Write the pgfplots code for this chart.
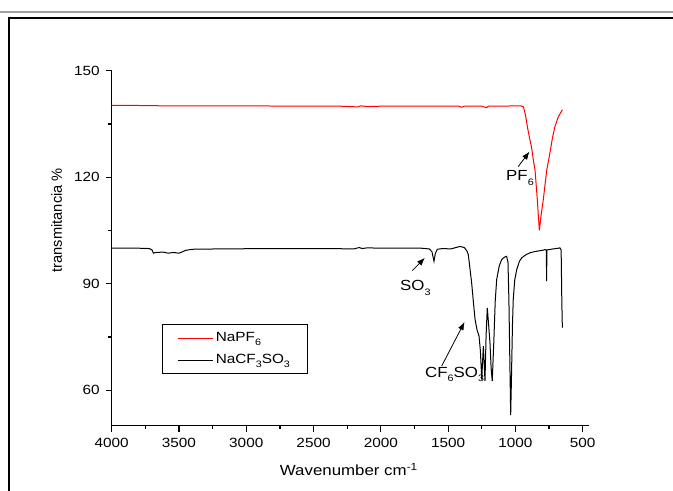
\documentclass[border=0pt]{standalone}
\usepackage{fontspec}
\setmainfont{Liberation Sans}[FakeStretch=1.15]
\newfontfamily\ylabfont{Liberation Sans}
\usepackage{pgfplots}
\pgfplotsset{compat=1.18}
\usetikzlibrary{arrows.meta}
\newcommand{\sub}[1]{\raisebox{-0.6ex}{\fontsize{7}{7}\selectfont #1}}

\pgfplotstableread{
w v
4000 140.2
3800 140.2
3600 140.1
3400 140.1
3000 140.1
2600 140.0
2300 140.0
2170 139.8
2150 140.1
2100 139.9
2000 140.0
1800 140.0
1600 140.0
1420 140.0
1400 139.7
1380 140.0
1250 140.0
1215 139.6
1200 140.0
1100 140.0
1000 140.1
960 140.1
940 139.8
925 137.5
910 134
892 130.5
880 128.5
867 124.9
854 122
837 113.6
822 105
810 109
793 113.6
767 122
743 126.9
725 131
706 134.3
681 137
651 139
}\redtab

\pgfplotstableread{
w v
4000 100.0
3800 100.0
3720 99.9
3700 99.5
3690 98.6
3670 98.8
3620 98.9
3580 98.6
3540 98.8
3500 98.6
3480 98.9
3450 99.4
3400 99.7
3200 99.8
2800 99.9
2400 99.9
2200 99.8
2160 100.2
2140 99.9
2100 100.1
2000 100.0
1800 100.0
1700 100.0
1640 99.8
1620 99.0
1605 96.3
1595 98.5
1580 99.7
1540 99.9
1480 99.8
1440 100.2
1412 100.5
1380 100.2
1360 99.2
1350 98.2
1340 95
1325 90.2
1310 84
1300 80
1285 77
1270 75.2
1260 71
1250 63
1244 68
1238 72.4
1226 62.6
1218 75
1209 83.2
1200 79
1189 73.4
1180 66
1172 62.6
1160 74
1150 85
1139 91.2
1120 95
1102 96.8
1080 97.5
1065 97.7
1055 96
1048 85
1040 65
1035 53
1030 62
1022 78
1016 85.5
1005 91
990 94
970 96.3
953 97.3
920 98.2
892 98.7
850 99.1
800 99.4
780 99.6
770 99.5
768 90.7
766 99.5
720 99.8
680 100.0
669 100.1
660 99.5
655 85
651 77.6
}\blacktab

\begin{document}
\begin{tikzpicture}
\useasboundingbox (0,0) rectangle (504.75pt,-368.25pt);
% page frame (table cell borders)
\draw[line width=1.2pt, gray!75] (0pt,-8.8pt) -- (504.75pt,-8.8pt);
\draw[line width=1.5pt] (6.4pt,-368.25pt) -- (6.4pt,-13.2pt) -- (504.75pt,-13.2pt);
\begin{axis}[
  at={(83.775pt,-319.275pt)}, anchor=south west,
  scale only axis, width=357.975pt, height=266.25pt,
  x dir=reverse,
  xmin=453, xmax=4000, ymin=50, ymax=150,
  axis x line=bottom, axis y line=left,
  axis line style={-, line width=0.9pt},
  tick align=outside,
  xtick={500,1000,...,4000}, ytick={60,90,120,150},
  minor x tick num=1, minor y tick num=1,
  major tick length=4.5pt, minor tick length=2.5pt,
  tick style={line width=0.9pt, black},
  /pgf/number format/assume math mode=true,
  /pgf/number format/1000 sep={},
  ticklabel style={font=\fontsize{10}{11}\selectfont},
  xticklabel style={yshift=-1.5pt},
  yticklabel style={xshift=-1pt},
  xlabel={Wavenumber cm\textsuperscript{-1}},
  ylabel={\ylabfont transmitancia \%},
  label style={font=\fontsize{11}{13}\selectfont},
  xlabel style={at={(axis description cs:0.497,-0.124)}, anchor=center},
  ylabel style={at={(axis description cs:-0.1152,0.579)}, anchor=center},
  legend cell align=left,
  legend image code/.code={\draw[#1] (0pt,0pt) -- (26pt,0pt);},
  legend style={at={(axis description cs:0.106,0.2865)}, anchor=north west,
    draw=black, line width=0.8pt, font=\fontsize{10}{12}\selectfont,
    inner xsep=11pt, inner ysep=4pt, row sep=4pt},
]
\addplot[red, line width=0.75pt] table[x=w, y=v] {\redtab};
\addlegendentry{NaPF\sub{6}}
\addplot[black, line width=0.75pt] table[x=w, y=v] {\blacktab};
\addlegendentry{NaCF\sub{3}SO\sub{3}}

\draw[-{Latex[length=6pt,width=4.5pt]}, line width=0.6pt] (axis cs:979,123) -- (axis cs:895,127.2);
\node[anchor=west, inner sep=0pt, font=\fontsize{11}{12}\selectfont] at (axis cs:1070,119.8) {PF\sub{6}};
\draw[-{Latex[length=6pt,width=4.5pt]}, line width=0.6pt] (axis cs:1766,93.7) -- (axis cs:1672,97.3);
\node[anchor=west, inner sep=0pt, font=\fontsize{11}{12}\selectfont] at (axis cs:1858,88.8) {SO\sub{3}};
\draw[-{Latex[length=6pt,width=4.5pt]}, line width=0.6pt] (axis cs:1548,66.8) -- (axis cs:1378,79.2);
\node[anchor=west, inner sep=0pt, font=\fontsize{11}{12}\selectfont] at (axis cs:1672,64.4) {CF\sub{6}SO\sub{3}};
\end{axis}
\end{tikzpicture}
\end{document}
